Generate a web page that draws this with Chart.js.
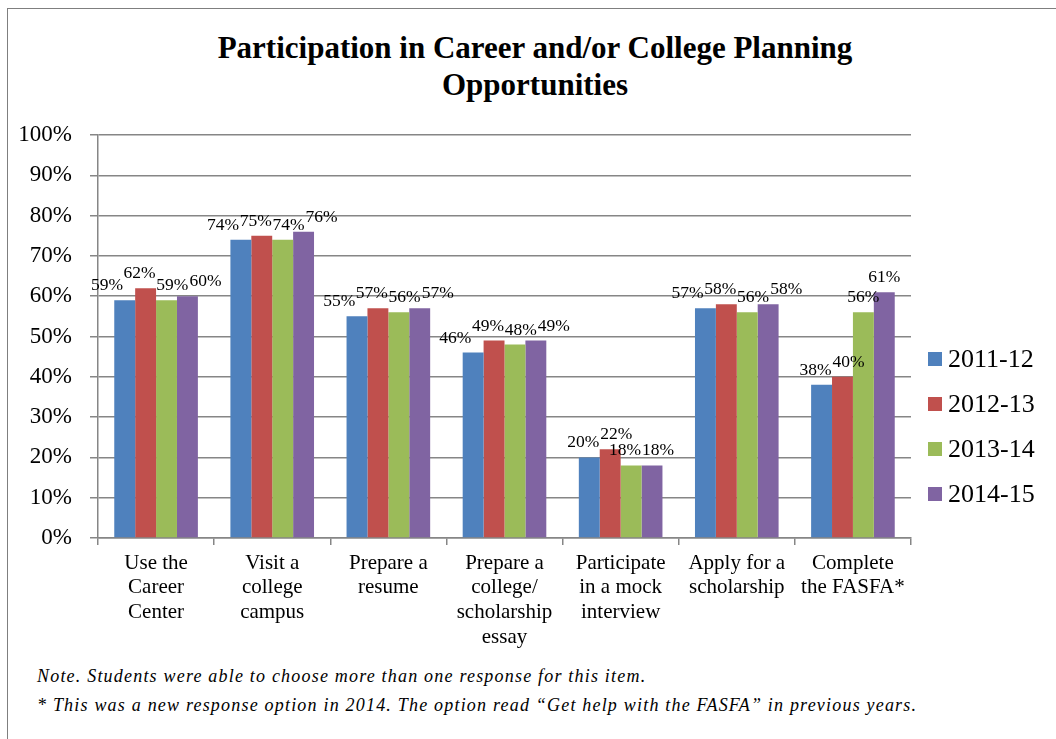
<!DOCTYPE html>
<html>
<head>
<meta charset="utf-8">
<title>Participation in Career and/or College Planning Opportunities</title>
<script src="https://cdn.jsdelivr.net/npm/chart.js@4.4.1/dist/chart.umd.min.js"></script>
<style>
  html, body { margin: 0; padding: 0; background: #fff; }
  #page { position: relative; width: 1056px; height: 739px; overflow: hidden; background: #fff;
          font-family: 'Liberation Serif', 'Times New Roman', serif; color: #000; }
  #frame { position: absolute; left: 7px; top: 8px; right: 0; bottom: 0;
           border-left: 1.5px solid #7f7f7f; border-top: 1.5px solid #7f7f7f; }
  #title { position: absolute; left: 14px; width: 1042px; top: 29px; text-align: center;
           font-size: 31px; font-weight: bold; line-height: 37px; }
  #wrap { position: absolute; left: 14px; top: 0; width: 1042px; height: 660px; }
  #legend { position: absolute; left: 928px; top: 336px; font-size: 26px; }
  .lg-item { height: 45px; line-height: 45px; white-space: nowrap; }
  .lg-box { display: inline-block; width: 14px; height: 14px; margin-right: 6px; vertical-align: 1px; }
  .note { position: absolute; left: 37px; font-style: italic; font-size: 18px;
          white-space: nowrap; letter-spacing: 1.2px; }
</style>
</head>
<body>
<div id="page">
  <div id="frame"></div>
  <div id="title">Participation in Career and/or College Planning<br>Opportunities</div>
  <div id="wrap"><canvas id="chart-planning"></canvas></div>
  <div id="legend"></div>
  <div class="note" style="top:666px">Note. Students were able to choose more than one response for this item.</div>
  <div class="note" style="top:695px">* This was a new response option in 2014. The option read “Get help with the FASFA” in previous years.</div>
</div>
<script>
/* ── DATA ── */
const categories = [
  ['Use the', 'Career', 'Center'],
  ['Visit a', 'college', 'campus'],
  ['Prepare a', 'resume'],
  ['Prepare a', 'college/', 'scholarship', 'essay'],
  ['Participate', 'in a mock', 'interview'],
  ['Apply for a', 'scholarship'],
  ['Complete', 'the FASFA*'],
];
const years = ['2011-12', '2012-13', '2013-14', '2014-15'];
const y2011 = [59, 74, 55, 46, 20, 57, 38];
const y2012 = [62, 75, 57, 49, 22, 58, 40];
const y2013 = [59, 74, 56, 48, 18, 56, 56];
const y2014 = [60, 76, 57, 49, 18, 58, 61];
const yTicks = [0, 10, 20, 30, 40, 50, 60, 70, 80, 90, 100];

const COL = ['#4f81bd', '#c0504d', '#9bbb59', '#8064a2'];
const SERIF = "'Liberation Serif', 'Times New Roman', serif";
const GRID = '#868686';

/* value labels above each bar; labels in a group that collide get spread apart */
const barLabels = {
  id: 'barLabels',
  afterDatasetsDraw(chart) {
    const ctx = chart.ctx;
    ctx.save();
    ctx.font = '17.5px ' + SERIF;
    ctx.fillStyle = '#000';
    ctx.textAlign = 'left';
    ctx.textBaseline = 'alphabetic';
    const n = chart.data.labels.length;
    for (let i = 0; i < n; i++) {
      const boxes = chart.data.datasets.map((ds, d) => {
        const bar = chart.getDatasetMeta(d).data[i];
        const txt = ds.data[i] + '%';
        const w = ctx.measureText(txt).width;
        return { txt, x: bar.x - w / 2, y: bar.y - 10, w, h: 13 };
      });
      for (let pass = 0; pass < 6; pass++) {
        for (let k = 1; k < boxes.length; k++) {
          const a = boxes[k - 1], b = boxes[k];
          const overlapX = a.x + a.w + 1 - b.x;
          const overlapY = b.y > a.y - a.h && b.y - b.h < a.y;
          if (overlapX > 0 && overlapY) {
            a.x -= overlapX / 2;
            b.x += overlapX / 2;
          }
        }
      }
      boxes.forEach(b => ctx.fillText(b.txt, b.x, b.y));
    }
    ctx.restore();
  },
};

const seriesData = [y2011, y2012, y2013, y2014];

new Chart(document.getElementById('chart-planning'), {
  type: 'bar',
  data: {
    labels: categories,
    datasets: years.map((y, i) => ({
      label: y,
      data: seriesData[i],
      backgroundColor: COL[i],
      categoryPercentage: 0.72,
      barPercentage: 1.0,
    })),
  },
  options: {
    responsive: true, maintainAspectRatio: false,
    animation: false,
    layout: { padding: { left: 0, right: 145, top: 135, bottom: 0 } },
    plugins: {
      legend: { display: false },
      tooltip: { enabled: false },
      title: { display: false },
    },
    scales: {
      x: {
        grid: { display: true, drawOnChartArea: false, drawTicks: true, tickLength: 7, color: GRID, lineWidth: 1.5 },
        border: { display: true, color: GRID, width: 1.5 },
        ticks: { color: '#000', font: { family: SERIF, size: 21, lineHeight: 1.17 }, padding: 6, maxRotation: 0, autoSkip: false },
        afterFit(scale) { scale.height = 122; },
      },
      y: {
        min: 0, max: 100,
        afterBuildTicks(scale) { scale.ticks = yTicks.map(v => ({ value: v })); },
        grid: { color: GRID, lineWidth: 1.5, tickLength: 8 },
        border: { display: true, color: GRID, width: 1.5 },
        ticks: { color: '#000', font: { family: SERIF, size: 23 }, padding: 18, callback: v => v + '%' },
        afterFit(scale) { scale.width = 84; },
      },
    },
  },
  plugins: [barLabels],
});

/* legend on the right */
const legend = document.getElementById('legend');
years.forEach((y, i) => {
  const row = document.createElement('div');
  row.className = 'lg-item';
  row.innerHTML = '<span class="lg-box" style="background:' + COL[i] + '"></span>' + y;
  legend.appendChild(row);
});
</script>
</body>
</html>
